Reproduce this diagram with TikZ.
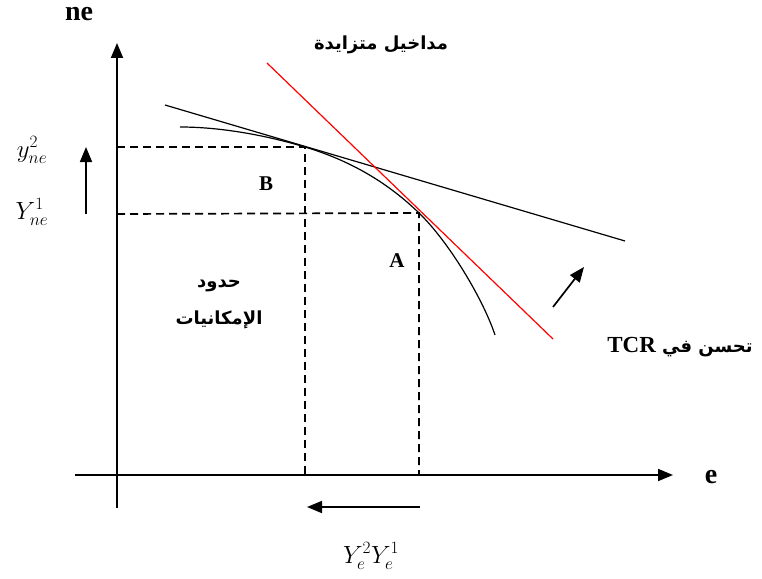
\documentclass[tikz,border=0pt]{standalone}
\usepackage{fontspec}
\setmainfont{Liberation Serif}
\newfontfamily\arabicfont[Script=Arabic]{DejaVu Sans}
\TeXXeTstate=1
\usetikzlibrary{arrows.meta}
\begin{document}
\begin{tikzpicture}[x=1pt,y=-1pt,
  axis/.style={line width=1.8pt,-{Triangle[length=15pt,width=12pt]}},
  guide/.style={line width=1.7pt,dash pattern=on 8pt off 5pt},
  shiftarrow/.style={line width=1.7pt,-{Triangle[length=15pt,width=12pt]}},
  curvestyle/.style={line width=1.2pt},
  lbl/.style={font=\fontsize{21}{24}\selectfont\bfseries,inner sep=0pt},
  biglbl/.style={font=\fontsize{28}{30}\selectfont\bfseries,inner sep=0pt},
  ar/.style={font=\arabicfont\fontsize{18}{22}\selectfont\bfseries,inner sep=0pt},
  mth/.style={font=\fontsize{24}{26}\selectfont,inner sep=0pt}]
\useasboundingbox (0,0) rectangle (762,578);
% axes
\coordinate (ybot) at (117,508);
\coordinate (ytop) at (117,43);
\coordinate (xleft) at (75,475);
\coordinate (xright) at (673,475);
\draw[axis] (ybot) -- (ytop);
\draw[axis] (xleft) -- (xright);
% points
\coordinate (B) at (305,147);
\coordinate (A) at (419,213);
\coordinate (y2) at (117,147);
\coordinate (y1) at (117,214);
\coordinate (xB) at (305,475);
\coordinate (xA) at (419,475);
% dashed guides
\draw[guide] (y2) -- (B) -- (xB);
\draw[guide] (y1) -- (A) -- (xA);
% tangent lines
\coordinate (t1s) at (165,105);
\coordinate (t1e) at (625,241);
\draw[curvestyle] (t1s) -- (t1e);
\coordinate (t2s) at (267,63);
\coordinate (t2e) at (553,339);
\draw[curvestyle,red] (t2s) -- (t2e);
% frontier
\coordinate (c0) at (180,127);
\coordinate (c3) at (495,335);
\draw[curvestyle] (c0) .. controls (220,127) and (265,135) .. (B)
  .. controls (345,159) and (384,179) .. (A)
  .. controls (449,242) and (483,299) .. (c3);
% shift arrows
\coordinate (u0) at (86,214);
\coordinate (u1) at (86,147);
\draw[shiftarrow] (u0) -- (u1);
\coordinate (l0) at (420,507);
\coordinate (l1) at (307,507);
\draw[shiftarrow] (l0) -- (l1);
\coordinate (d0) at (553,307);
\coordinate (d1) at (584,267);
\draw[shiftarrow] (d0) -- (d1);
% labels
\node[biglbl] (ne) at (79,14) {ne};
\node[biglbl] (e) at (711,477) {e};
\node[lbl] (Bl) at (266,184) {B};
\node[lbl] (Al) at (397,261) {A};
\node[ar] (inc) at (381,45) {\beginR مداخيل متزايدة\endR};
\node[ar] (lim1) at (219,286) {\beginR حدود\endR};
\node[ar] (lim2) at (219,320) {\beginR الإمكانيات\endR};
\node[ar] (tcr) at (680,347) {\beginR تحسن في \beginL{\rmfamily\fontsize{23}{24}\selectfont\bfseries TCR}\endL\endR};
\node[mth] (ly2) at (32,150) {$y_{ne}^2$};
\node[mth] (ly1) at (32,212) {$Y_{ne}^1$};
\node[mth] (lye) at (371,556) {$Y_e^2Y_e^1$};
\end{tikzpicture}
\end{document}
